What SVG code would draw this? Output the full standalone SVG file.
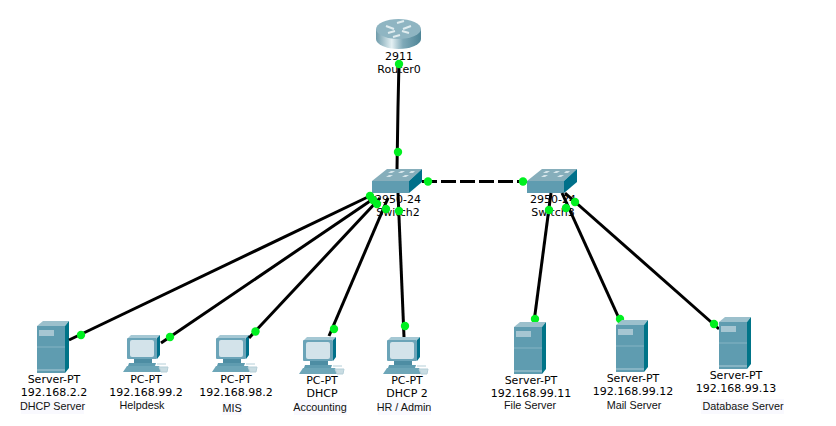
<svg xmlns="http://www.w3.org/2000/svg" width="836" height="426" viewBox="0 0 836 426">
<style>
text{font-family:"DejaVu Sans",Verdana,sans-serif;font-size:11px;fill:#000;text-anchor:middle}
text.s{font-family:"Liberation Sans",Arial,sans-serif;font-size:10.800px;fill:#111}
.bg{fill:#f9f9fe}
.l{stroke:#000;stroke-width:3;fill:none}
.d{fill:#00f020}
</style>
<defs>
<linearGradient id="rg" x1="0" x2="1" y1="0" y2="0">
<stop offset="0" stop-color="#6f9cab"/><stop offset=".35" stop-color="#e4f0f3"/><stop offset=".6" stop-color="#7fa9b8"/><stop offset="1" stop-color="#4d8496"/>
</linearGradient>
<g id="server">
<path d="M0 5L6 0H32L28 5Z" fill="#9cc0cc"/>
<path d="M0 5H28V52H0Z" fill="#5f9cb0"/>
<path d="M28 5L32 0V47L28 52Z" fill="#007488"/>
<rect x="2" y="9" width="15" height="6" fill="#a6c6d2"/>
<path d="M0 26H28" stroke="#86b4c4" stroke-width="1"/>
<path d="M0 49H28" stroke="#86b4c4" stroke-width="2"/>
</g>
<g id="pc">
<path d="M5 3L8 0H37L34 3Z" fill="#a5c8d4"/>
<path d="M34 3L37 0V20L34 24Z" fill="#00708a"/>
<rect x="4" y="3" width="30" height="21" rx="1" fill="#6ba4b8"/>
<rect x="7" y="5" width="24" height="17" rx="2" fill="#d3e3ea"/>
<path d="M11 24H29V28H11Z" fill="#4d8da3"/>
<path d="M6 28H33L32 31H5Z" fill="#5f9cb0"/>
<path d="M4 31H36L40 37H0Z" fill="#6da6b8"/>
<path d="M34 29H43M36 32H45L44 37H38Z" stroke="#b5cfd8" fill="#c9dce2" stroke-width="1"/>
</g>
<g id="switch">
<path d="M0 12L15 0H50L37 12Z" fill="#86aebb"/>
<path d="M16 4L19 2H23L20 4ZM26 4L29 2H33L30 4ZM14 8L17 6H21L18 8ZM30 8L33 6H37L34 8ZM37 4L39 2H43L41 4Z" fill="#d5e5ea"/>
<rect x="0" y="12" width="37" height="12" fill="#5f9cb0"/>
<path d="M37 12L50 0V13L37 24Z" fill="#00708a"/>
</g>
</defs>
<rect width="836" height="426" fill="#fff"/>
<g id="router0">
<path d="M376 29V39A22.5 10 0 0 0 421 39V29Z" fill="url(#rg)"/>
<ellipse cx="398.500" cy="29" rx="22.500" ry="10" fill="#8fb5c2"/>
<path d="M386 26L394 29M411 26L403 29M397 23L404 21M400 35L393 37M388 33L395 31M409 33L402 31" stroke="#dfecef" stroke-width="2" fill="none"/>
<text x="399" y="60">2911</text><text x="399" y="73">Router0</text>
</g>
<g id="switch2">
<use href="#switch" x="372" y="169"/>
<text x="398" y="203">2950-24</text><text x="398" y="216">Switch2</text>
</g>
<g id="switch3">
<use href="#switch" x="527" y="169"/>
<text x="553" y="203">2950-24</text><text x="553" y="216">Switch3</text>
</g>
<g id="dhcp-server">
<use href="#server" x="37" y="321"/>
<text x="54" y="383">Server-PT</text><text x="54" y="396">192.168.2.2</text>
<rect class="bg" x="21" y="399" width="63" height="15"/><text class="s" x="52.500" y="410">DHCP Server</text>
</g>
<g id="helpdesk">
<use href="#pc" x="123" y="335"/>
<text x="146" y="383">PC-PT</text><text x="146" y="396">192.168.99.2</text>
<text class="s" x="142" y="409">Helpdesk</text>
</g>
<g id="mis">
<use href="#pc" x="212" y="335"/>
<text x="236" y="383">PC-PT</text><text x="236" y="396">192.168.98.2</text>
<rect class="bg" x="222" y="402" width="20" height="13"/><text class="s" x="232" y="412">MIS</text>
</g>
<g id="accounting">
<use href="#pc" x="299" y="337"/>
<text x="322" y="384">PC-PT</text><text x="322" y="397">DHCP</text>
<rect class="bg" x="294" y="400" width="53" height="15"/><text class="s" x="320" y="411">Accounting</text>
</g>
<g id="hr-admin">
<use href="#pc" x="383" y="337"/>
<text x="407" y="384">PC-PT</text><text x="407" y="397">DHCP 2</text>
<rect class="bg" x="378" y="400" width="53" height="15"/><text class="s" x="404" y="411">HR / Admin</text>
</g>
<g id="connectors">
<path class="l" d="M399 62L398 107L397 169"/>
<path class="l" d="M422 181.500H527" stroke-dasharray="15 4"/>
<path class="l" d="M372 195L69 340"/>
<path class="l" d="M376 197L161 343"/>
<path class="l" d="M380 198L249 338"/>
<path class="l" d="M388 198L329 336"/>
<path class="l" d="M398 193L404 337"/>
<path class="l" d="M551 193L534 322"/>
<path class="l" d="M562 193L622 325"/>
<path class="l" d="M565 193L719 329"/>
<circle class="d" cx="399" cy="64" r="4.200"/><circle class="d" cx="398" cy="152" r="4.200"/>
<circle class="d" cx="428" cy="181.500" r="4.200"/><circle class="d" cx="523" cy="181.500" r="4.200"/>
<circle class="d" cx="370" cy="196" r="4.200"/><circle class="d" cx="373" cy="200" r="4.200"/>
<circle class="d" cx="377" cy="204" r="4.200"/><circle class="d" cx="386" cy="209" r="4.200"/><circle class="d" cx="399" cy="211" r="4.200"/>
<circle class="d" cx="549" cy="210" r="4.200"/><circle class="d" cx="566" cy="208" r="4.200"/><circle class="d" cx="575" cy="202" r="4.200"/>
<circle class="d" cx="81" cy="335" r="4.200"/><circle class="d" cx="170" cy="337" r="4.200"/><circle class="d" cx="255.500" cy="331.500" r="4.200"/>
<circle class="d" cx="334" cy="329" r="4.200"/><circle class="d" cx="405" cy="326" r="4.200"/>
<circle class="d" cx="535" cy="319" r="4.200"/><circle class="d" cx="620" cy="319" r="4.200"/><circle class="d" cx="714" cy="324" r="4.200"/>
</g>
<g id="file-server">
<use href="#server" x="514" y="322"/>
<text x="531" y="384">Server-PT</text><text x="531" y="397">192.168.99.11</text>
<text class="s" x="530" y="409">File Server</text>
</g>
<g id="mail-server">
<use href="#server" x="616" y="320"/>
<text x="633" y="382">Server-PT</text><text x="633" y="395">192.168.99.12</text>
<text class="s" x="634" y="409">Mail Server</text>
</g>
<g id="database-server">
<use href="#server" x="719" y="317"/>
<text x="736" y="379">Server-PT</text><text x="736" y="392">192.168.99.13</text>
<rect class="bg" x="701" y="399" width="83" height="15"/><text class="s" x="743" y="410">Database Server</text>
</g>
</svg>
